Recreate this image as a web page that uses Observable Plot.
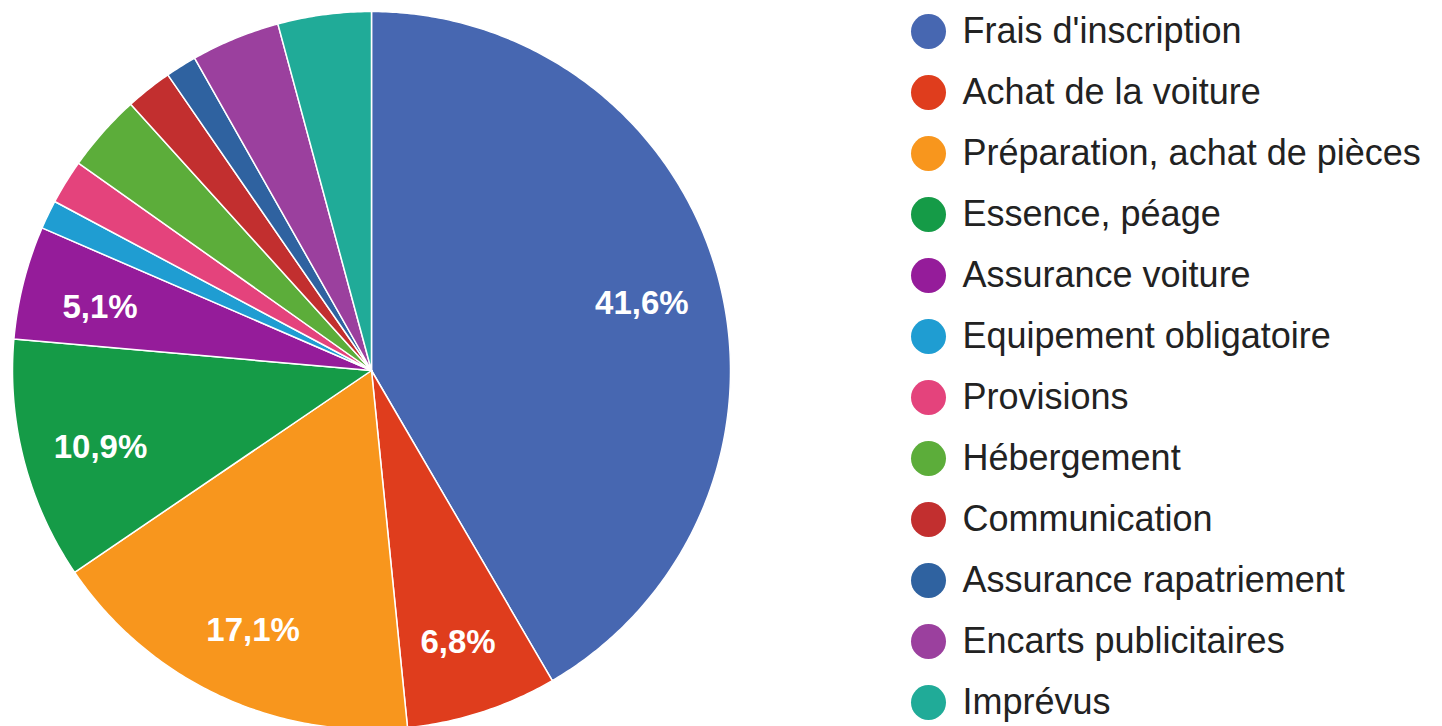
<!DOCTYPE html>
<html>
<head>
<meta charset="utf-8">
<script src="https://cdn.jsdelivr.net/npm/d3@7"></script>
<script src="https://cdn.jsdelivr.net/npm/@observablehq/plot@0.6"></script>
<style>
  html, body { margin: 0; padding: 0; background: #fff; }
  #wrap { display: flex; flex-direction: row; width: 1442px; height: 726px; overflow: hidden; }
  svg { display: block; }
</style>
</head>
<body>
<div id="wrap"></div>
<script>
// ---- data ----
const categories = [
  "Frais d'inscription",
  "Achat de la voiture",
  "Préparation, achat de pièces",
  "Essence, péage",
  "Assurance voiture",
  "Equipement obligatoire",
  "Provisions",
  "Hébergement",
  "Communication",
  "Assurance rapatriement",
  "Encarts publicitaires",
  "Imprévus"
];
const values = [41.6, 6.8, 17.1, 10.9, 5.1, 1.3, 2.0, 3.5, 2.1, 1.4, 4.0, 4.2];
const colors = [
  "#4767b1", "#df3d1d", "#f8961d", "#159b47", "#951c9a", "#1f9dd2",
  "#e4437c", "#5cad3a", "#c22f2f", "#2f62a0", "#9b409e", "#20ab98"
];

// ---- geometry derived from data ----
const total = d3.sum(values);
let cum = 0;
const slices = categories.map((c, i) => {
  const a0 = cum / total * 2 * Math.PI;
  cum += values[i];
  const a1 = cum / total * 2 * Math.PI;
  return {cat: c, value: values[i], a0, a1, mid: (a0 + a1) / 2};
});
const points = [];
for (const s of slices) {
  const n = Math.max(2, Math.ceil((s.a1 - s.a0) / 0.01));
  points.push({cat: s.cat, x: 0, y: 0});
  for (let k = 0; k <= n; k++) {
    const a = s.a0 + (s.a1 - s.a0) * k / n;
    points.push({cat: s.cat, x: Math.sin(a), y: Math.cos(a)});
  }
  points.push({cat: s.cat, x: 0, y: 0});
}
const labelR = 0.78;
const labeled = slices.filter(s => s.value >= 5).map(s => ({
  x: labelR * Math.sin(s.mid),
  y: labelR * Math.cos(s.mid),
  text: s.value.toFixed(1).replace(".", ",") + "%"
}));

const cx = 371, cy = 370, R = 359;
const pieWidth = 900, H = 726;

const pie = Plot.plot({
  width: pieWidth,
  height: H,
  margin: 0,
  style: {fontFamily: "Liberation Sans, Arial, sans-serif", background: "transparent"},
  x: {domain: [-1, 1], range: [cx - R, cx + R], axis: null},
  y: {domain: [-1, 1], range: [cy + R, cy - R], axis: null},
  color: {domain: categories, range: colors},
  marks: [
    Plot.line(points, {x: "x", y: "y", z: "cat", fill: "cat", stroke: "white", strokeWidth: 1.5, strokeLinejoin: "round", curve: "linear"}),
    Plot.text(labeled, {x: "x", y: "y", dy: 6, text: "text", fill: "white", fontSize: 33, fontWeight: "bold"})
  ]
});

const legend = Plot.plot({
  width: 1442 - pieWidth,
  height: H,
  margin: 0,
  style: {fontFamily: "Liberation Sans, Arial, sans-serif", background: "transparent"},
  x: {domain: [0, 1], range: [0, 1442 - pieWidth], axis: null},
  y: {type: "point", domain: categories, range: [27, 705], padding: 0, axis: null},
  color: {domain: categories, range: colors},
  marks: [
    Plot.dot(categories, {x: () => 0, y: d => d, dx: 28, r: 17.5, fill: d => d}),
    Plot.text(categories, {x: () => 0, y: d => d, dx: 62, text: d => d, textAnchor: "start", fontSize: 36, fill: "#222"})
  ]
});

const wrap = document.getElementById("wrap");
wrap.appendChild(pie);
wrap.appendChild(legend);
</script>
</body>
</html>
